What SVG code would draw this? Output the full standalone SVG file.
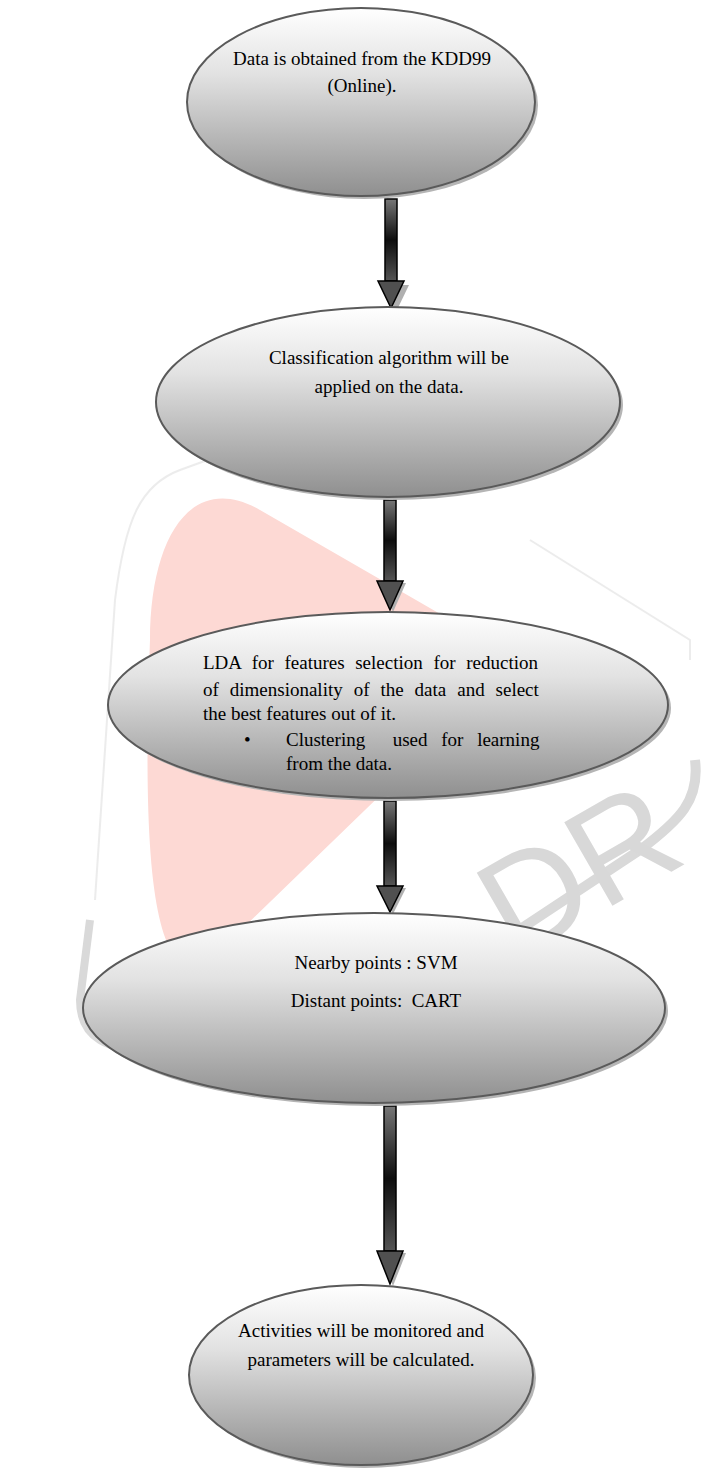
<svg xmlns="http://www.w3.org/2000/svg" width="708" height="1470" viewBox="0 0 708 1470">
<defs>
<linearGradient id="eg" x1="0" y1="0" x2="0" y2="1">
<stop offset="0" stop-color="#ffffff"/>
<stop offset="0.35" stop-color="#e2e2e2"/>
<stop offset="1" stop-color="#8f8f8f"/>
</linearGradient>
<linearGradient id="ag" x1="0" y1="0" x2="0" y2="1">
<stop offset="0" stop-color="#777777"/>
<stop offset="0.5" stop-color="#0d0d0d"/>
<stop offset="1" stop-color="#555555"/>
</linearGradient>
</defs>
<style>
.node ellipse.shadow{fill:#b5b5b5;stroke:none}
.node ellipse.body{fill:url(#eg);stroke:#5a5a5a;stroke-width:2}
.t{font-family:"Liberation Serif","Times New Roman",serif;font-size:19px;fill:#000}
.arr .shaft{fill:url(#ag);stroke:#000;stroke-width:1.5}
.arr .head{fill:#505050;stroke:#000;stroke-width:1.5}
.arr .hs{fill:#b0b0b0;stroke:none}
.wm{fill:none;stroke:#d9d9d9}
</style>
<g id="watermark">
<path d="M150,640 C150,540 190,470 260,510 L520,660 L210,960 C160,990 140,900 150,640 Z" fill="#fdd9d4"/>
<path d="M290,430 L180,470 C140,485 125,520 115,600 L95,900" class="wm" stroke-width="2" opacity="0.5"/>
<path d="M530,540 L690,640 L690,660" class="wm" stroke-width="2" opacity="0.5"/>
<path d="M695,760 C700,800 680,820 640,850 L300,1075" class="wm" stroke-width="10"/>
<path d="M90,920 L80,1000 C80,1040 110,1050 150,1050 L230,1050" class="wm" stroke-width="8"/>
<text x="0" y="0" font-family="Liberation Sans, Arial, sans-serif" font-size="140" fill="#d8d8d8" transform="translate(515,962) rotate(-30)">DR</text>
</g>
<g id="connectors" class="arr">
<g id="a1">
<path class="hs" d="M380,283 h26 l-13,27 z" transform="translate(3,2)"/>
<rect class="shaft" x="385" y="199" width="12" height="82"/>
<path class="head" d="M378,281 h26 l-13,27 z"/>
</g>
<g id="a2">
<path class="hs" d="M377,581 h26 l-13,29 z" transform="translate(3,2)"/>
<rect class="shaft" x="384" y="500" width="12" height="81"/>
<path class="head" d="M377,581 h26 l-13,29 z"/>
</g>
<g id="a3">
<path class="hs" d="M377,886 h26 l-13,26 z" transform="translate(3,2)"/>
<rect class="shaft" x="384" y="801" width="12" height="85"/>
<path class="head" d="M377,886 h26 l-13,26 z"/>
</g>
<g id="a4">
<path class="hs" d="M377,1251 h26 l-13,33 z" transform="translate(3,2)"/>
<rect class="shaft" x="384" y="1106" width="12" height="145"/>
<path class="head" d="M377,1251 h26 l-13,33 z"/>
</g>
</g>
<g id="n1" class="node">
<ellipse class="shadow" cx="364" cy="105" rx="174" ry="94"/>
<ellipse class="body" cx="361" cy="102" rx="174" ry="94"/>
<text class="t" x="362" y="65" text-anchor="middle">Data is obtained from the KDD99</text>
<text class="t" x="362" y="92" text-anchor="middle">(Online).</text>
</g>
<g id="n2" class="node">
<ellipse class="shadow" cx="391" cy="405" rx="232" ry="95"/>
<ellipse class="body" cx="388" cy="402" rx="232" ry="95"/>
<text class="t" x="389" y="364" text-anchor="middle">Classification algorithm will be</text>
<text class="t" x="389" y="393" text-anchor="middle">applied on the data.</text>
</g>
<g id="n3" class="node">
<ellipse class="shadow" cx="391" cy="708" rx="280" ry="93"/>
<ellipse class="body" cx="388" cy="705" rx="280" ry="93"/>
<text class="t" x="203" y="669" word-spacing="5.9">LDA for features selection for reduction</text>
<text class="t" x="203" y="696" word-spacing="6.2">of dimensionality of the data and select</text>
<text class="t" x="203" y="720">the best features out of it.</text>
<text class="t" x="244" y="746">•</text>
<text class="t" x="286" y="746" word-spacing="9" xml:space="preserve">Clustering  used for learning</text>
<text class="t" x="286" y="770">from the data.</text>
</g>
<g id="n4" class="node">
<ellipse class="shadow" cx="377" cy="1011" rx="291" ry="95"/>
<ellipse class="body" cx="374" cy="1008" rx="291" ry="95"/>
<text class="t" x="376" y="969" text-anchor="middle">Nearby points : SVM</text>
<text class="t" x="376" y="1007" text-anchor="middle" xml:space="preserve">Distant points:  CART</text>
</g>
<g id="n5" class="node">
<ellipse class="shadow" cx="364" cy="1378" rx="172" ry="90"/>
<ellipse class="body" cx="361" cy="1375" rx="172" ry="90"/>
<text class="t" x="361" y="1337" text-anchor="middle">Activities will be monitored and</text>
<text class="t" x="361" y="1366" text-anchor="middle">parameters will be calculated.</text>
</g>
</svg>
